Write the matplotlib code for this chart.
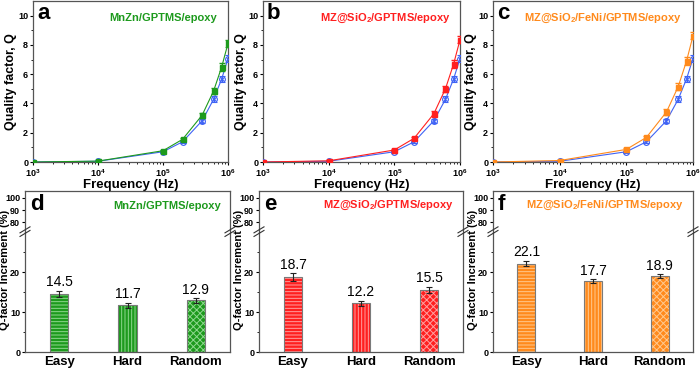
import matplotlib
matplotlib.use("Agg")
import matplotlib.pyplot as plt
import numpy as np

# ---- data ----
freq = [1e3, 1e4, 1e5, 2e5, 4e5, 6e5, 8e5, 1e6]
q_base = [0.0, 0.05, 0.70, 1.38, 2.82, 4.28, 5.68, 7.07]
q_mnzn = [0.0, 0.06, 0.77, 1.55, 3.20, 4.85, 6.50, 8.10]
q_sio2 = [0.0, 0.08, 0.82, 1.62, 3.30, 5.00, 6.70, 8.35]
q_feni = [0.0, 0.10, 0.86, 1.68, 3.42, 5.15, 6.90, 8.62]
q_err_base = [0.02, 0.03, 0.06, 0.10, 0.15, 0.20, 0.22, 0.25]
q_err_mod = [0.02, 0.03, 0.08, 0.10, 0.18, 0.22, 0.25, 0.25]

cats = ["Easy", "Hard", "Random"]
inc_mnzn = [14.5, 11.7, 12.9]
inc_sio2 = [18.7, 12.2, 15.5]
inc_feni = [22.1, 17.7, 18.9]
err_mnzn = [0.8, 0.6, 0.6]
err_sio2 = [1.0, 0.6, 0.8]
err_feni = [0.7, 0.5, 0.5]

labels = ["MnZn/GPTMS/epoxy",
          r"MZ@SiO$_\mathbf{2}$/GPTMS/epoxy",
          r"MZ@SiO$_\mathbf{2}$/FeNi/GPTMS/epoxy"]

BLUE = "#3f63f5"
GREEN = "#1d9a1d"
RED = "#ff1f1f"
ORANGE = "#ff8a1c"
LIGHT = {GREEN: "#8fd88f", RED: "#ffa0a0", ORANGE: "#ffc98f"}

plt.rcParams.update({
    "font.family": ["Liberation Sans", "DejaVu Sans"],
    "font.weight": "bold",
    "axes.labelweight": "bold",
    "mathtext.fontset": "custom",
    "mathtext.rm": "Liberation Sans:bold",
    "mathtext.bf": "Liberation Sans:bold",
    "mathtext.it": "Liberation Sans:bold",
    "axes.linewidth": 0.9,
    "axes.edgecolor": "#555555",
    "hatch.linewidth": 0.7,
})

fig = plt.figure(figsize=(7, 3.7), dpi=100)

# ---- top row: quality factor vs frequency ----
top = [(33, 195, q_mnzn, GREEN, "a", 0.945),
       (263, 197, q_sio2, RED, "b", 0.955),
       (493, 200, q_feni, ORANGE, "c", 0.945)]
for i, (x0, w, q, col, letter, tx) in enumerate(top):
    ax = fig.add_axes([x0 / 700, 208 / 370, w / 700, 161 / 370])
    ax.set_xscale("log")
    ax.errorbar(freq, q_base, yerr=q_err_base, color=BLUE, marker="o", ms=4.2,
                mfc="none", mew=0.8, lw=0.8, elinewidth=0.8, capsize=2, zorder=3)
    ax.plot(freq, q_base, ls="none", marker="x", ms=2.6, color=BLUE, mew=0.7, zorder=3)
    ax.errorbar(freq, q, yerr=q_err_mod, color=col, marker="s", ms=3.6,
                lw=0.8, elinewidth=0.8, capsize=2, zorder=4)
    ax.set_xlim(1e3, 1e6)
    ax.set_ylim(0, 11)
    ax.set_xticks([1e3, 1e4, 1e5, 1e6])
    ax.set_xticklabels([r"$\mathbf{10^{3}}$", r"$\mathbf{10^{4}}$",
                        r"$\mathbf{10^{5}}$", r"$\mathbf{10^{6}}$"])
    ax.set_yticks([0, 2, 4, 6, 8, 10])
    ax.set_yticks([1, 3, 5, 7, 9], minor=True)
    ax.tick_params(labelsize=6.5, length=2.5, width=0.8, pad=1)
    ax.tick_params(which="minor", length=1.5, width=0.6)
    ax.set_xlabel("Frequency (Hz)", fontsize=9.5, labelpad=0)
    ax.set_ylabel("Quality factor, Q", fontsize=9, labelpad=1)
    ax.text(0.02, 0.985, letter, transform=ax.transAxes, fontsize=16,
            fontweight="bold", va="top", ha="left")
    ax.text(tx, 0.895, labels[i], transform=ax.transAxes, color=col,
            fontsize=8, ha="right", va="center")

# ---- bottom row: Q-factor increment bars with a broken axis ----
bottom = [(25, 205, inc_mnzn, err_mnzn, GREEN, "d"),
          (259, 204, inc_sio2, err_sio2, RED, "e"),
          (493, 200, inc_feni, err_feni, ORANGE, "f")]
hatches = ["-----", "|||||", "xxxxx"]
xpos = np.arange(1, len(cats) + 1)
bw = 0.27
for i, (x0, w, vals, errs, col, letter) in enumerate(bottom):
    axu = fig.add_axes([x0 / 700, 138 / 370, w / 700, 41 / 370])
    axl = fig.add_axes([x0 / 700, 18 / 370, w / 700, 120 / 370])
    for xi, v, h in zip(xpos, vals, hatches):
        axl.bar(xi, v, width=bw, color=col, edgecolor=LIGHT[col], hatch=h, lw=0)
    axl.bar(xpos, vals, width=bw, facecolor="none", edgecolor="#7a7a7a", lw=0.8)
    axl.errorbar(xpos, vals, yerr=errs, fmt="none", ecolor="#222222",
                 elinewidth=0.8, capsize=2.5, capthick=0.8)
    for xi, v, e in zip(xpos, vals, errs):
        axl.annotate(f"{v:.1f}", (xi, v + e), xytext=(0, 1), textcoords="offset points",
                     ha="center", va="bottom", fontsize=10, fontweight="normal")
    for ax in (axu, axl):
        ax.set_xlim(0.5, 3.5)
        ax.tick_params(labelsize=6.5, length=2.5, width=0.8, pad=1)
    axl.set_ylim(0, 30)
    axu.set_ylim(72, 105.6)
    axu.spines["bottom"].set_visible(False)
    axl.spines["top"].set_visible(False)
    axu.set_xticks([])
    axu.set_yticks([80, 90, 100])
    axl.set_yticks([0, 10, 20])
    axl.set_yticks([5, 15, 25], minor=True)
    axl.tick_params(which="minor", length=1.5, width=0.6)
    axl.set_xticks(xpos)
    axl.set_xticklabels(cats, fontsize=9.5)
    axl.tick_params(axis="x", length=0, pad=3)
    # break marks on both spines
    dx, dy = 5 / w, 3 / 120
    for sx in (0, 1):
        axl.plot([sx - dx, sx + dx], [1 - dy - 0.012, 1 + dy - 0.012], transform=axl.transAxes,
                 color="#333333", lw=0.8, clip_on=False, zorder=5)
        axl.plot([sx - dx, sx + dx], [1 - dy + 0.018, 1 + dy + 0.018], transform=axl.transAxes,
                 color="#333333", lw=0.8, clip_on=False, zorder=5)
    axu.text(0.025, 0.93, letter, transform=axu.transAxes, fontsize=16,
             fontweight="bold", va="top", ha="left")
    axu.text(0.955, 0.64, labels[i], transform=axu.transAxes, color=col,
             fontsize=8, ha="right", va="center")
    fig.text((x0 - 20) / 700, 100 / 370, "Q-factor Increment (%)", rotation=90,
             fontsize=8, fontweight="bold", ha="center", va="center")

fig.savefig("out.png", dpi=100)
